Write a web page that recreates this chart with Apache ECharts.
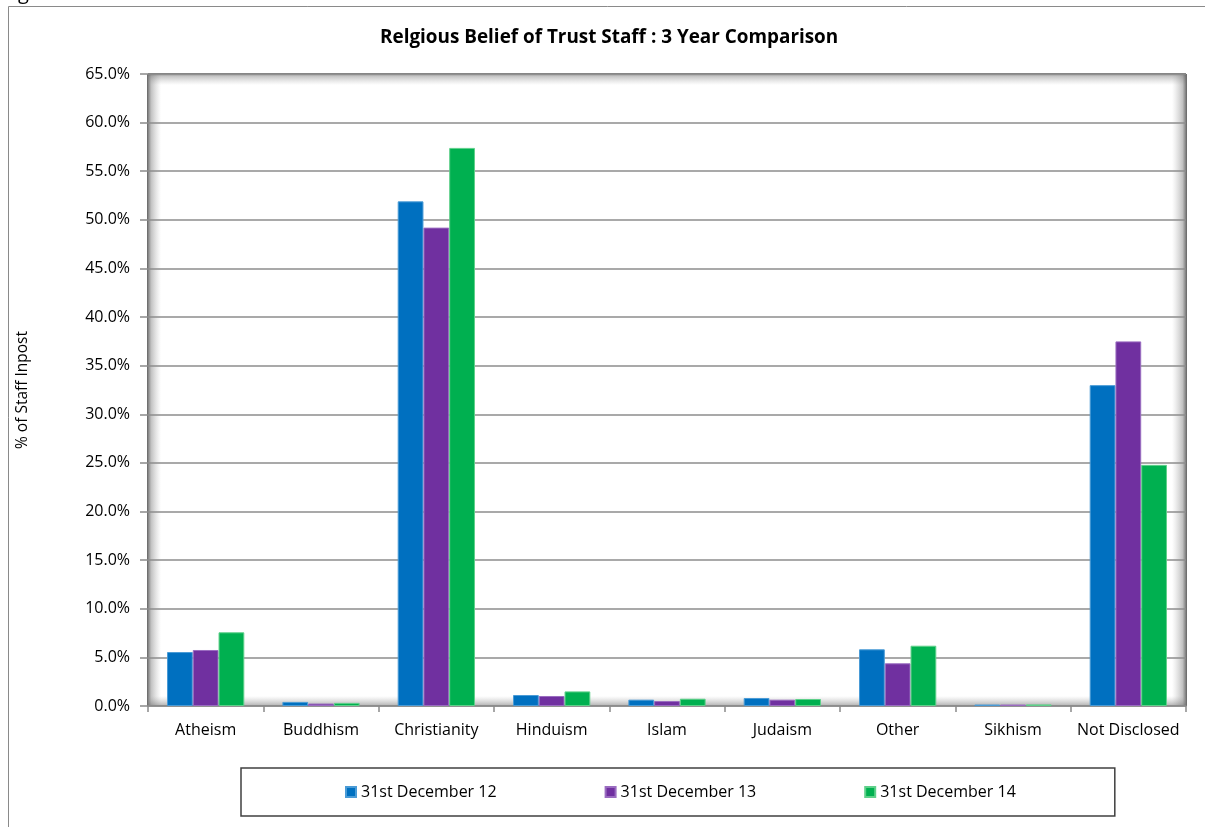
<!DOCTYPE html>
<html>
<head>
<meta charset="utf-8">
<title>Relgious Belief of Trust Staff : 3 Year Comparison</title>
<script src="https://cdn.jsdelivr.net/npm/echarts@6/dist/echarts.min.js"></script>
<style>
  html, body { margin: 0; padding: 0; background: #fff; }
  #chart { width: 1205px; height: 827px; }
</style>
</head>
<body>
<div id="chart"></div>
<script>
// Religion categories on the x axis
const categories = ['Atheism', 'Buddhism', 'Christianity', 'Hinduism', 'Islam', 'Judaism', 'Other', 'Sikhism', 'Not Disclosed'];

// Share of staff in post (%) at each year end
const dec12 = [5.55, 0.42, 51.9, 1.13, 0.65, 0.82, 5.83, 0.15, 33.0];
const dec13 = [5.76, 0.25, 49.2, 1.03, 0.51, 0.65, 4.39, 0.15, 37.5];
const dec14 = [7.58, 0.32, 57.4, 1.50, 0.75, 0.72, 6.20, 0.16, 24.8];

const seriesNames = ['31st December 12', '31st December 13', '31st December 14'];

// Y axis ticks: 0.0% .. 65.0% in 5% steps
const yMin = 0, yMax = 65, yStep = 5;

const FONT = '"Open Sans", "Noto Sans", sans-serif';
const W = 1205, H = 827;
// plot rectangle
const G = { left: 148, top: 74, right: 19, bottom: 121 };
const plotR = W - G.right, plotB = H - G.bottom;
const plotW = plotR - G.left, plotH = plotB - G.top;

const colors = ['#0070C0', '#7030A0', '#00B050'];
const edges = ['#4A9BD6', '#9A6CC0', '#5FD08A'];

function barSeries(name, data, i) {
  return {
    name: name,
    type: 'bar',
    data: data,
    barGap: '0%',
    barCategoryGap: '33%',
    itemStyle: { color: colors[i], borderColor: edges[i], borderWidth: 1 },
    emphasis: { disabled: true }
  };
}

// soft inner shading along the plot edges
const shade = (x, y, w, h, x1, y1, x2, y2, stops) => ({
  type: 'rect', z: -10, silent: true,
  shape: { x: x, y: y, width: w, height: h },
  style: { fill: new echarts.graphic.LinearGradient(x1, y1, x2, y2, stops) }
});

const graphic = [
  // outer chart frame
  { type: 'rect', z: -20, silent: true,
    shape: { x: 8.5, y: 6.5, width: W + 10, height: H + 10 },
    style: { fill: '#fff', stroke: '#8a8a8a', lineWidth: 1 } },
  { type: 'text', z: -5, silent: true, left: 18, top: -17,
    style: { text: 'g', font: '20px ' + FONT, fill: '#000' } },
  shade(G.left - 1, G.top, 14, plotH, 0, 0, 1, 0,
    [{ offset: 0, color: 'rgba(90,90,90,0.95)' }, { offset: 0.3, color: 'rgba(120,120,120,0.45)' }, { offset: 1, color: 'rgba(160,160,160,0)' }]),
  shade(G.left, G.top - 1, plotW, 12, 0, 0, 0, 1,
    [{ offset: 0, color: 'rgba(90,90,90,0.95)' }, { offset: 0.25, color: 'rgba(120,120,120,0.45)' }, { offset: 1, color: 'rgba(160,160,160,0)' }]),
  shade(plotR - 14, G.top, 15, plotH, 0, 0, 1, 0,
    [{ offset: 0, color: 'rgba(160,160,160,0)' }, { offset: 0.7, color: 'rgba(120,120,120,0.45)' }, { offset: 1, color: 'rgba(90,90,90,0.95)' }]),
  shade(G.left, plotB - 10, plotW, 10, 0, 0, 0, 1,
    [{ offset: 0, color: 'rgba(160,160,160,0)' }, { offset: 1, color: 'rgba(110,110,110,0.55)' }])
];

const chart = echarts.init(document.getElementById('chart'), null, { renderer: 'canvas' });

chart.setOption({
  animation: false,
  backgroundColor: '#fff',
  textStyle: { fontFamily: FONT },
  title: {
    text: 'Relgious Belief of Trust Staff : 3 Year Comparison',
    left: 375,
    top: 23,
    textStyle: { fontFamily: FONT, fontSize: 18.9, fontWeight: 'bold', color: '#000' }
  },
  legend: {
    data: seriesNames,
    left: 241,
    top: 768,
    padding: [16, 99, 16, 104],
    itemGap: 108,
    itemWidth: 10,
    itemHeight: 10,
    icon: 'rect',
    borderColor: '#404040',
    borderWidth: 1.5,
    backgroundColor: '#fff',
    selectedMode: false,
    textStyle: { fontFamily: FONT, fontSize: 16, color: '#000', width: 140, overflow: 'none' }
  },
  grid: { left: G.left, top: G.top, right: G.right, bottom: G.bottom, containLabel: false },
  xAxis: {
    type: 'category',
    data: categories,
    axisLine: { show: true, lineStyle: { color: '#8a8a8a', width: 1.5 } },
    axisTick: { show: true, length: 6, lineStyle: { color: '#8a8a8a', width: 1.5 } },
    axisLabel: { fontFamily: FONT, fontSize: 16, color: '#000', margin: 16, interval: 0 }
  },
  yAxis: {
    type: 'value',
    min: yMin,
    max: yMax,
    interval: yStep,
    name: '% of Staff Inpost',
    nameLocation: 'middle',
    nameGap: 117,
    nameRotate: 90,
    nameTextStyle: { fontFamily: FONT, fontSize: 15.5, color: '#000' },
    axisLine: { show: false },
    axisTick: { show: true, length: 8, lineStyle: { color: '#8a8a8a', width: 1.5 } },
    axisLabel: { fontFamily: FONT, fontSize: 16, color: '#000', margin: 18,
      formatter: v => v.toFixed(1) + '%' },
    splitLine: { show: true, lineStyle: { color: '#8c8c8c', width: 1.5 } }
  },
  graphic: graphic,
  series: [
    barSeries(seriesNames[0], dec12, 0),
    barSeries(seriesNames[1], dec13, 1),
    barSeries(seriesNames[2], dec14, 2)
  ]
});
</script>
</body>
</html>
